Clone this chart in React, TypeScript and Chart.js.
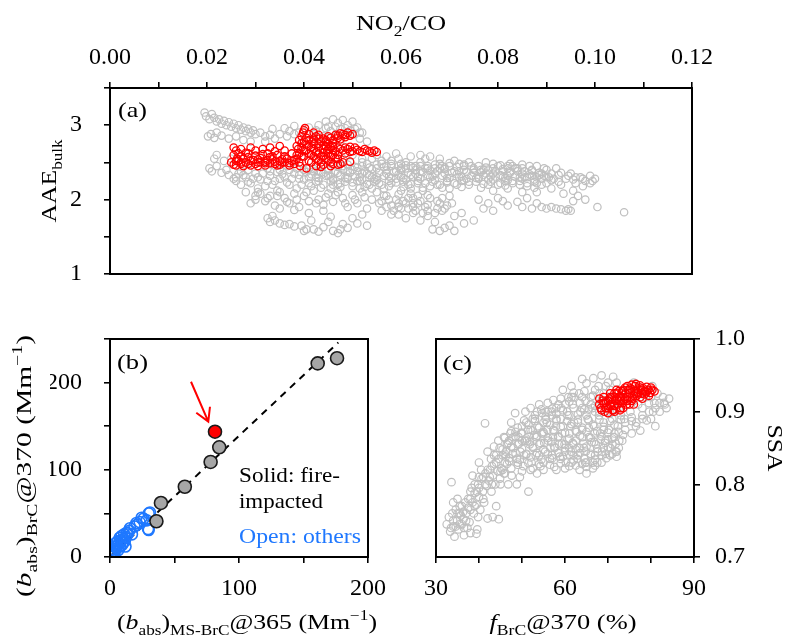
import React, { useEffect, useRef } from 'react';
import { Chart, registerables } from 'chart.js';
Chart.register(...registerables);

const FONT = '"Liberation Serif", "Times New Roman", serif';

// ---------- Panel (a): AAE_bulk vs NO2/CO ----------
const aGray: [number, number][] = [
  [0.0195,3.17],[0.0198,3.12],[0.0205,3.08],[0.021,3.15],[0.0215,3.1],[0.022,3.05],[0.0225,3.08],[0.023,3.02],[0.0235,3.06],[0.024,3.0],[0.0245,3.04],[0.025,2.98],[0.0255,3.02],[0.026,2.96],[0.0265,3.0],[0.027,2.94],[0.0275,2.97],[0.028,2.92],[0.0285,2.95],[0.029,2.9],[0.0295,2.93],[0.030,2.88],[0.031,2.9],[0.032,2.85],[0.033,2.87],[0.034,2.82],[0.0202,2.85],[0.0208,2.88],[0.0215,2.83],[0.022,2.9],[0.023,2.86],[0.0245,2.82],[0.026,2.85],[0.0275,2.8],[0.029,2.78],
  [0.0205,2.42],[0.021,2.38],[0.022,2.45],[0.023,2.36],[0.024,2.4],[0.0245,2.33],[0.025,2.55],[0.026,2.3],[0.0235,2.52],[0.022,2.6],[0.0215,2.55],
  [0.036,2.96],[0.037,2.92],[0.038,2.99],[0.039,2.9],[0.041,2.97],[0.042,2.88],[0.043,3.0],[0.0445,3.05],[0.045,2.98],[0.046,3.08],[0.047,3.03],[0.0475,2.95],[0.048,3.07],[0.049,3.0],[0.0495,2.93],[0.050,3.05],[0.051,2.97],[0.0505,2.88],[0.052,2.9],[0.0455,2.92],[0.044,2.85],[0.0465,2.86],[0.0515,2.82],[0.053,2.78],[0.0475,2.78],[0.035,2.88],[0.0335,2.95],[0.032,2.78],
  [0.0425,2.93],[0.0445,2.96],[0.0465,2.98],[0.0485,2.96],[0.0505,2.95],[0.0515,2.9],[0.038,2.88],[0.0365,2.85],
  [0.026,2.25],[0.027,2.2],[0.028,2.3],[0.029,2.22],[0.030,2.35],[0.031,2.27],[0.032,2.18],[0.033,2.32],[0.034,2.25],[0.035,2.4],[0.036,2.3],[0.037,2.2],[0.038,2.35],[0.039,2.28],[0.040,2.4],[0.0285,2.4],[0.0305,2.15],[0.0325,2.42],[0.0345,2.12],[0.0365,2.45],[0.0385,2.15],[0.028,2.1],[0.030,2.05],[0.027,2.38],
  [0.0255,2.28],[0.0275,2.33],[0.0295,2.28],[0.0315,2.35],[0.0335,2.2],[0.0355,2.34],[0.0375,2.28],[0.0395,2.2],[0.0265,2.35],[0.0285,2.24],[0.0305,2.3],[0.0325,2.25],[0.0345,2.37],[0.0365,2.23],[0.0385,2.42],
  [0.029,1.95],[0.030,2.0],[0.031,2.08],[0.032,1.98],[0.033,2.05],[0.034,1.92],[0.035,2.1],[0.036,2.02],[0.037,1.95],[0.038,2.08],[0.039,1.9],[0.040,2.05],[0.041,1.98],[0.042,2.12],[0.043,2.0],[0.044,1.93],[0.045,2.08],[0.046,1.97],[0.047,2.1],[0.048,2.02],[0.049,1.9],[0.050,2.06],[0.051,1.95],[0.052,2.1],[0.053,1.88],[0.054,2.0],[0.035,1.88],[0.038,1.86],[0.041,1.82],[0.044,1.85],
  [0.0305,2.1],[0.0325,2.02],[0.0345,2.05],[0.0365,1.97],[0.0385,2.0],[0.0405,2.1],[0.0425,1.95],[0.0445,2.03],[0.0465,2.06],[0.0485,1.95],[0.0505,2.0],[0.0525,2.03],
  [0.0325,1.75],[0.033,1.7],[0.034,1.72],[0.035,1.68],[0.036,1.66],[0.037,1.67],[0.038,1.64],[0.0395,1.65],[0.040,1.58],[0.0405,1.6],[0.042,1.6],[0.043,1.57],[0.044,1.63],[0.045,1.7],[0.046,1.58],[0.047,1.55],[0.0475,1.6],[0.048,1.67],[0.049,1.62],[0.050,1.75],[0.051,1.68],[0.052,1.8],[0.053,1.65],[0.0455,1.77],[0.0415,1.72],[0.0335,1.78],
  [0.041,2.3],[0.042,2.38],[0.043,2.25],[0.044,2.35],[0.045,2.42],[0.046,2.28],[0.047,2.36],[0.048,2.45],[0.049,2.3],[0.050,2.4],[0.051,2.25],[0.052,2.35],[0.053,2.48],[0.054,2.3],[0.055,2.42],[0.056,2.52],[0.057,2.35],[0.058,2.45],[0.059,2.28],[0.060,2.4],[0.061,2.5],[0.062,2.33],[0.063,2.45],[0.064,2.38],[0.065,2.55],[0.066,2.3],[0.067,2.42],[0.068,2.48],[0.069,2.35],[0.070,2.45],[0.071,2.52],[0.072,2.3],[0.073,2.4],[0.074,2.5],[0.075,2.36],
  [0.0415,2.18],[0.0435,2.45],[0.0455,2.15],[0.0475,2.22],[0.0495,2.5],[0.0515,2.15],[0.0535,2.2],[0.0555,2.22],[0.0575,2.18],[0.0595,2.55],[0.0615,2.2],[0.0635,2.25],[0.0655,2.45],[0.0675,2.2],[0.0695,2.25],[0.0715,2.2],[0.0735,2.28],
  [0.055,2.6],[0.057,2.58],[0.059,2.62],[0.062,2.58],[0.064,2.6],[0.066,2.58],[0.068,2.55],[0.058,2.52],[0.060,2.3],[0.062,2.45],[0.054,2.55],[0.052,2.55],
  [0.033,2.38],[0.035,2.28],[0.037,2.4],[0.039,2.33],[0.041,2.42],[0.043,2.38],[0.045,2.32],[0.047,2.44],[0.049,2.38],[0.051,2.43],[0.053,2.35],[0.055,2.3],[0.057,2.45],[0.059,2.38],[0.061,2.42],[0.063,2.35],[0.065,2.42],[0.067,2.35],[0.069,2.43],[0.071,2.38],[0.073,2.45],[0.075,2.42],[0.077,2.33],[0.079,2.42],[0.081,2.38],[0.083,2.45],[0.085,2.35],[0.087,2.32],[0.089,2.28],[0.091,2.35],[0.046,2.2],[0.050,2.18],[0.054,2.15],[0.058,2.22],[0.062,2.15],[0.066,2.18],[0.070,2.15],[0.074,2.2],[0.078,2.27],[0.082,2.32],[0.086,2.22],[0.090,2.22],[0.048,2.55],[0.050,2.6],[0.052,2.5],[0.056,2.48],[0.060,2.48],[0.064,2.5],[0.068,2.42],[0.072,2.48],[0.076,2.45],
  [0.040,2.27],[0.043,2.29],[0.046,2.26],[0.049,2.28],[0.052,2.27],[0.055,2.26],[0.058,2.29],[0.061,2.27],[0.064,2.28],[0.067,2.26],[0.070,2.29],[0.073,2.26],[0.076,2.3],[0.079,2.27],[0.082,2.26],[0.085,2.28],[0.088,2.3],[0.091,2.26],
  [0.0415,2.34],[0.0445,2.32],[0.0475,2.33],[0.0505,2.31],[0.0535,2.33],[0.0565,2.32],[0.0595,2.34],[0.0625,2.31],[0.0655,2.33],[0.0685,2.32],[0.0715,2.34],[0.0745,2.32],[0.0775,2.35],[0.0805,2.33],[0.0835,2.31],[0.0865,2.34],[0.0895,2.32],[0.0925,2.33],
  [0.042,2.41],[0.045,2.39],[0.048,2.4],[0.051,2.38],[0.054,2.41],[0.057,2.39],[0.060,2.42],[0.063,2.4],[0.066,2.39],[0.069,2.41],[0.072,2.38],[0.075,2.4],[0.078,2.39],[0.081,2.41],[0.084,2.42],[0.087,2.39],[0.090,2.4],
  [0.041,2.22],[0.044,2.2],[0.047,2.21],[0.050,2.23],[0.053,2.21],[0.056,2.2],[0.059,2.23],[0.062,2.21],[0.065,2.22],[0.068,2.2],[0.071,2.22],[0.074,2.24],[0.077,2.21],[0.080,2.2],[0.083,2.22],[0.086,2.18],[0.089,2.2],
  [0.049,2.47],[0.052,2.45],[0.055,2.47],[0.058,2.48],[0.061,2.46],[0.064,2.45],[0.067,2.47],[0.070,2.49],[0.073,2.47],[0.079,2.48],[0.082,2.45],[0.085,2.42],[0.088,2.45],
  [0.0425,2.3],[0.0455,2.31],[0.0485,2.29],[0.0515,2.3],[0.0545,2.28],[0.0575,2.31],[0.0605,2.29],[0.0635,2.3],[0.0665,2.31],[0.0695,2.29],[0.0725,2.31],[0.0755,2.29],[0.0785,2.31],[0.0815,2.29],[0.0845,2.3],[0.0875,2.27],[0.0905,2.3],[0.0955,2.27],
  [0.0405,2.37],[0.0435,2.36],[0.0465,2.38],[0.0495,2.36],[0.0525,2.38],[0.0555,2.36],[0.0585,2.37],[0.0615,2.36],[0.0645,2.37],[0.0675,2.38],[0.0705,2.36],[0.0735,2.37],[0.0765,2.4],[0.0795,2.38],[0.0825,2.36],[0.0855,2.38],[0.0885,2.33],
  [0.0505,2.44],[0.0535,2.43],[0.0565,2.44],[0.0595,2.45],[0.0625,2.43],[0.0655,2.42],[0.0685,2.45],[0.0715,2.44],[0.0745,2.45],[0.0775,2.43],[0.0805,2.46],[0.0835,2.42],
  [0.0425,2.24],[0.0455,2.25],[0.0485,2.24],[0.0515,2.25],[0.0545,2.24],[0.0575,2.25],[0.0605,2.24],[0.0635,2.22],[0.0665,2.24],[0.0695,2.23],[0.0725,2.25],[0.0755,2.24],[0.0785,2.24],[0.0815,2.25],[0.0845,2.25],[0.0875,2.24],[0.0925,2.24],
  [0.0435,2.16],[0.0475,2.17],[0.0525,2.17],[0.0565,2.15],[0.0605,2.17],[0.0645,2.16],[0.0685,2.16],[0.0725,2.17],[0.0765,2.16],[0.0815,2.19],[0.0875,2.16],
  [0.055,2.1],[0.056,1.98],[0.057,2.05],[0.058,1.92],[0.059,2.0],[0.060,1.88],[0.061,1.95],[0.062,2.08],[0.063,1.85],[0.064,1.98],[0.065,1.9],[0.066,2.02],[0.067,1.82],[0.068,1.95],[0.069,1.88],[0.070,2.05],[0.071,1.78],[0.058,1.8],[0.061,1.75],[0.064,1.72],[0.067,1.7],[0.070,1.65],[0.056,1.85],[0.0665,1.6],[0.068,1.58],[0.069,1.62],[0.071,1.58],[0.073,1.68],[0.075,1.72],[0.060,2.12],[0.0645,2.12],[0.057,1.9],[0.0625,1.95],[0.0655,1.78],
  [0.0555,1.95],[0.0575,2.0],[0.0595,1.9],[0.0615,2.02],[0.0635,1.95],[0.0655,1.85],[0.0675,1.98],[0.0695,1.92],[0.0585,1.85],[0.0615,1.88],[0.0645,1.82],[0.0675,1.88],[0.0705,1.95],[0.0725,1.82],[0.0605,1.98],[0.0635,2.05],
  [0.0565,2.05],[0.0595,2.07],[0.0625,2.02],[0.0655,2.06],[0.0685,2.02],[0.0595,1.95],[0.0625,1.9],[0.0655,1.93],[0.0685,1.85],[0.0625,1.82],[0.0595,1.8],
  [0.076,2.28],[0.077,2.4],[0.078,2.2],[0.079,2.35],[0.080,2.45],[0.081,2.3],[0.082,2.42],[0.083,2.25],[0.084,2.38],[0.085,2.47],[0.086,2.3],[0.087,2.4],[0.088,2.22],[0.089,2.35],[0.090,2.3],[0.091,2.15],[0.092,2.42],[0.093,2.2],[0.094,2.28],[0.095,2.35],[0.096,2.22],[0.097,2.3],[0.098,2.25],[0.099,2.32],[0.100,2.28],[0.079,2.12],[0.082,2.15],[0.085,2.1],[0.088,2.1],[0.0775,2.5],[0.0825,2.48],[0.0865,2.45],[0.0805,2.22],[0.0845,2.2],[0.0895,2.42],[0.0935,2.08],[0.0955,2.12],[0.0975,2.18],
  [0.0765,2.37],[0.0795,2.31],[0.0825,2.38],[0.0855,2.3],[0.0885,2.36],[0.0915,2.28],[0.0945,2.32],[0.0975,2.28],[0.0995,2.25],[0.093,2.36],[0.096,2.3],[0.099,2.22],
  [0.076,2.0],[0.078,1.95],[0.080,2.02],[0.082,1.92],[0.084,1.97],[0.085,1.9],[0.087,1.88],[0.088,1.95],[0.089,1.9],[0.090,1.88],[0.091,1.9],[0.092,1.88],[0.093,1.87],[0.094,1.85],[0.095,1.85],[0.0945,1.87],[0.086,2.02],[0.077,1.88],[0.079,1.85],[0.081,1.98],[0.0955,1.98],[0.098,2.0],[0.0965,2.05],[0.1005,1.9],[0.106,1.83],
];

const aRed: [number, number][] = [
  [0.025,2.5],[0.026,2.46],[0.0265,2.52],[0.027,2.48],[0.028,2.5],[0.029,2.46],[0.0295,2.53],[0.030,2.48],[0.031,2.5],[0.032,2.46],[0.0325,2.53],[0.033,2.49],[0.034,2.51],[0.035,2.47],[0.0355,2.54],[0.036,2.5],[0.037,2.46],[0.0375,2.52],[0.038,2.48],[0.0262,2.55],[0.0285,2.57],[0.031,2.56],[0.0335,2.58],[0.0275,2.45],[0.0305,2.45],[0.0345,2.46],
  [0.0255,2.6],[0.027,2.58],[0.0285,2.62],[0.030,2.59],[0.0315,2.61],[0.033,2.57],[0.0345,2.6],[0.036,2.58],[0.0375,2.62],
  [0.026,2.52],[0.0275,2.55],[0.029,2.52],[0.0305,2.54],[0.032,2.51],[0.0335,2.54],[0.035,2.52],[0.0365,2.55],[0.038,2.53],
  [0.0255,2.47],[0.027,2.5],[0.0285,2.48],[0.0305,2.5],[0.032,2.49],[0.034,2.48],[0.0355,2.5],[0.037,2.49],
  [0.0255,2.7],[0.026,2.66],[0.027,2.68],[0.028,2.63],[0.029,2.7],[0.030,2.66],[0.0315,2.68],[0.033,2.7],[0.034,2.65],[0.035,2.72],[0.0265,2.62],[0.0325,2.62],[0.036,2.66],
  [0.0385,2.55],[0.039,2.62],[0.0395,2.7],[0.040,2.78],[0.040,2.58],[0.0405,2.66],[0.041,2.52],[0.041,2.72],[0.0415,2.6],[0.042,2.68],[0.042,2.82],[0.0425,2.55],[0.043,2.75],[0.043,2.62],[0.0435,2.5],[0.044,2.68],[0.044,2.58],[0.0445,2.78],[0.045,2.62],[0.045,2.52],[0.0455,2.7],[0.046,2.6],[0.046,2.48],[0.0395,2.85],[0.040,2.93],[0.0402,2.96],[0.041,2.88],[0.0392,2.45],[0.0405,2.42],[0.0425,2.45],[0.044,2.47],[0.0388,2.68],[0.0418,2.78],[0.0432,2.82],[0.0448,2.66],[0.0465,2.65],[0.047,2.55],[0.0475,2.48],[0.048,2.5],[0.0495,2.51],
  [0.0385,2.6],[0.039,2.5],[0.0395,2.58],[0.040,2.65],[0.0405,2.74],[0.041,2.62],[0.041,2.8],[0.0415,2.5],[0.0415,2.7],[0.042,2.58],[0.042,2.75],[0.0425,2.64],[0.0425,2.85],[0.043,2.52],[0.043,2.7],[0.0435,2.58],[0.0435,2.78],[0.044,2.63],[0.044,2.73],[0.0445,2.55],[0.045,2.68],[0.045,2.75],[0.0455,2.58],[0.0455,2.5],[0.046,2.66],[0.0465,2.55],[0.047,2.6],[0.0395,2.76],[0.0385,2.72],[0.039,2.8],[0.0398,2.9],[0.0405,2.83],[0.042,2.9],[0.0445,2.72],[0.046,2.76],[0.047,2.47],[0.0455,2.45],[0.0435,2.44],
  [0.044,2.82],[0.045,2.85],[0.046,2.8],[0.0465,2.87],[0.047,2.83],[0.048,2.88],[0.0485,2.84],[0.049,2.9],[0.0495,2.86],[0.043,2.87],
  [0.0445,2.8],[0.0455,2.83],[0.047,2.86],[0.0475,2.81],[0.0485,2.87],[0.050,2.88],[0.0475,2.89],
  [0.047,2.7],[0.048,2.66],[0.049,2.68],[0.050,2.65],[0.051,2.67],[0.052,2.64],[0.053,2.66],[0.054,2.63],[0.055,2.64],[0.0505,2.7],[0.0525,2.68],[0.0485,2.62],[0.046,2.72],
  [0.0475,2.68],[0.0495,2.64],[0.0515,2.65],[0.0535,2.65],[0.0545,2.66],[0.0495,2.71],[0.0485,2.7],
];

const aXTickLabels = ['0.00', '0.02', '0.04', '0.06', '0.08', '0.10', '0.12'];
const aYTickLabels = ['1', '2', '3'];

// ---------- Panel (b): (b_abs)BrC@370 vs (b_abs)MS-BrC@365 ----------
const bOpen: [number, number][] = [
  [0.5,1],[1,3],[1.5,6],[2,2],[2.5,9],[3,4],[3.5,12],[4,7],[4.5,16],[5,10],[5.5,13],[6,18],[6.5,8],[7,15],[7.5,22],[8,12],[8.5,19],[9,24],[9.5,14],[10,16],[10.5,21],[11,26],[11.5,18],[12,12],[12.5,23],[13,28],[14,27],[15,30],[15.5,33],[17,26],[19,35],[20.5,39],[21,37],[23,40],[24.5,45],[26,44],[28.5,42],[29.5,32],[30,31],[30,50],[31,51],
];
const bSolid: [number, number][] = [[36,41],[39.5,62],[58,80.6],[78,109],[84.7,125.8],[161,222],[176,228]];
const bFire: [number, number][] = [[81.4,143.7]];
const bFitLine: [number, number][] = [[0,0],[177,246]];
const bArrow: [number, number][] = [[62.8,201],[76.2,155.2]];
const bXTickLabels = ['0', '100', '200'];
const bYTickLabels = ['0', '100', '200'];

// ---------- Panel (c): SSA vs fBrC@370 ----------
const cGray: [number, number][] = [
  [32.5,0.745],[33,0.755],[33.3,0.735],[33.8,0.76],[34,0.742],[34.3,0.728],[34.6,0.765],[34.9,0.75],[35.2,0.738],[35.5,0.77],[35.8,0.757],[36,0.745],[36.3,0.762],[36.5,0.73],[37,0.75],[37.3,0.74],[34,0.775],[35,0.78],[36.8,0.775],[33.6,0.803],[38,0.733],[39.4,0.732],[39.6,0.738],
  [37.5,0.768],[38,0.78],[38.3,0.795],[38.8,0.76],[39,0.788],[39.4,0.772],[39.8,0.8],[40,0.783],[40.3,0.765],[40.6,0.808],[40.9,0.79],[41.2,0.775],[41.5,0.815],[41.8,0.798],[42,0.753],[42.3,0.805],[42.6,0.82],[42.9,0.79],[43.2,0.812],[43.5,0.828],[43.8,0.8],[44,0.77],[44.3,0.818],[44.6,0.835],[44.9,0.808],[45.2,0.822],[45.5,0.84],[45.8,0.815],[46,0.83],[46.3,0.845],[44.6,0.752],[43.2,0.755],[39.8,0.755],[38.5,0.812],[41.4,0.884],[40,0.83],[42,0.845],[43.5,0.852],
  [42.8,0.835],[44,0.83],[45,0.8],[46,0.815],[45.5,0.82],[43,0.8],[41,0.78],[40,0.795],[39,0.77],[38,0.765],[37.8,0.748],[36.4,0.752],[35.5,0.745],[34.6,0.742],
  [40.5,0.82],[41.5,0.8],[42.5,0.81],[43.5,0.84],[44.5,0.86],[39,0.8],[38,0.79],[37,0.76],[36,0.77],[35,0.76],[34,0.75],[33.5,0.74],
  [41,0.81],[42,0.82],[43,0.825],[44,0.84],[40,0.81],[39.5,0.79],[38.5,0.775],[37.5,0.78],[36.5,0.74],[35.5,0.76],
  [46.5,0.855],[47,0.832],[47.3,0.87],[47.6,0.812],[48,0.85],[48.4,0.898],[48.8,0.835],[48.8,0.8],[49.2,0.865],[49.6,0.845],[50,0.88],[50.3,0.825],[50.7,0.86],[51,0.842],[51.4,0.875],[51.5,0.79],[51.8,0.855],[52.2,0.83],[52.5,0.89],[52.9,0.868],[53.2,0.84],[53.6,0.88],[54,0.855],[54.3,0.825],[54.7,0.898],[55,0.87],[55.4,0.845],[55.8,0.885],[56.1,0.86],[56.5,0.835],[56.9,0.9],[57.3,0.916],[57.3,0.875],[57.6,0.85],[58,0.89],[58.4,0.865],[58.8,0.838],[59.1,0.905],[59.5,0.88],[59.9,0.855],[60.2,0.83],[60.8,0.92],[60.6,0.895],[61,0.87],[61.4,0.845],[61.8,0.91],[62.1,0.885],[62.5,0.86],[62.9,0.835],[63.3,0.925],[63.4,0.82],[63.6,0.9],[64,0.875],[64.4,0.85],[64.8,0.915],[65,0.939],[65,0.815],[65.3,0.89],[65.6,0.865],[66,0.84],[66.6,0.946],[66.4,0.905],[66.8,0.88],[67.2,0.855],[67.5,0.83],[67.9,0.895],[68.2,0.87],[68.6,0.845],[69,0.885],[69.6,0.836],[69.4,0.86],[69.8,0.9],[70.2,0.875],[70.6,0.85],[71,0.89],[71.2,0.948],[71.4,0.865],[71.8,0.845],[72,0.838],[72.3,0.88],[72.6,0.86],[46.8,0.8],[49.5,0.81],[53.5,0.815],[58,0.82],[61,0.825],[66.5,0.822],[64.7,0.83],[62,0.84],[55.5,0.9],[54,0.91],[52,0.905],[59.5,0.93],[61.5,0.935],[64,0.945],[67.8,0.935],[68.5,0.95],[70,0.94],[47.5,0.885],[50.8,0.9],[45.8,0.865],[44.8,0.85],
  [47.8,0.842],[48.5,0.872],[49,0.855],[49.8,0.87],[50.5,0.84],[51.2,0.86],[52,0.875],[52.6,0.85],[53.3,0.865],[54,0.84],[54.6,0.87],[55.2,0.857],[55.9,0.875],[56.6,0.85],[57.2,0.865],[57.9,0.88],[58.6,0.855],[59.3,0.87],[60,0.845],[60.6,0.862],[61.3,0.88],[62,0.855],[62.7,0.872],[63.4,0.85],[64.1,0.865],[64.8,0.845],[65.5,0.878],[66.2,0.858],[66.9,0.87],[67.6,0.845],[68.3,0.862],[69,0.85],[70,0.862],[71,0.855],[56,0.9],[58,0.905],[60,0.91],[62,0.92],[64,0.905],[66,0.92],[68,0.925],[69.5,0.915],[70.5,0.93],[53,0.89],[51,0.885],[49,0.83],[52,0.82],[55,0.83],[57,0.84],[59,0.835],[61,0.85],[63,0.84],[65,0.83],[67,0.84],[68.5,0.83],[70.5,0.84],[71.5,0.87],[69,0.875],[67,0.9],[65,0.895],[63,0.885],[61,0.895],[59,0.89],[57,0.895],[55,0.885],[53.5,0.9],[50,0.86],[48,0.865],[46.2,0.838],[47,0.86],
  [49,0.878],[51.5,0.882],[54,0.878],[56.5,0.882],[59,0.879],[61.5,0.883],[64,0.878],[66.5,0.882],[69,0.879],[71.5,0.882],[74,0.885],[76.5,0.88],
  [46,0.864],[48.5,0.866],[51,0.863],[53.5,0.867],[56,0.864],[58.5,0.866],[61,0.863],[63.5,0.867],[66,0.864],[68.5,0.866],[71,0.863],[73.5,0.868],
  [45.5,0.848],[47.5,0.852],[50,0.849],[52.5,0.852],[55,0.848],[57.5,0.852],[60,0.85],[62.5,0.848],[65,0.852],[67.5,0.849],[70,0.851],[72.5,0.85],
  [47,0.836],[49.5,0.834],[52,0.837],[54.5,0.834],[57,0.836],[59.5,0.838],[62,0.833],[64.5,0.836],[67,0.834],[69.5,0.842],[72,0.845],
  [45,0.818],[47.5,0.822],[50,0.818],[52.5,0.822],[55,0.82],[57.5,0.824],[60,0.822],[62.5,0.826],[65,0.824],[67,0.826],
  [53,0.895],[55.5,0.893],[58,0.897],[60.5,0.9],[63,0.896],[65.5,0.903],[68,0.9],[70.5,0.898],[73,0.895],[75.5,0.892],[78,0.895],[80.5,0.9],
  [56,0.912],[58.5,0.91],[61,0.914],[63.5,0.912],[66,0.91],[68.5,0.915],[71,0.91],[81,0.905],[83,0.912],
  [62,0.926],[64.5,0.928],[67,0.93],[69.5,0.935],[72,0.94],[76,0.94],
  [47.5,0.873],[50,0.871],[52.5,0.874],[55,0.872],[57.5,0.873],[60,0.871],[62.5,0.874],[65,0.872],[67.5,0.873],[70,0.871],[72.5,0.872],
  [46.8,0.857],[49.3,0.856],[51.8,0.858],[54.3,0.857],[56.8,0.858],[59.3,0.856],[61.8,0.857],[64.3,0.856],[66.8,0.858],[69.3,0.857],[71.8,0.856],
  [46,0.842],[48.5,0.843],[51,0.841],[53.5,0.843],[56,0.842],[58.5,0.843],[61,0.841],[63.5,0.843],[66,0.842],[68.5,0.84],[71,0.842],
  [46.5,0.828],[49,0.827],[51.5,0.829],[54,0.828],[56.5,0.827],[59,0.829],[61.5,0.83],[64,0.828],[66.5,0.83],
  [50.5,0.888],[53,0.887],[55.5,0.889],[58,0.888],[60.5,0.887],[63,0.889],[65.5,0.888],[68,0.889],[70.5,0.887],[73,0.889],[75.5,0.887],[78,0.89],
  [54.5,0.903],[57,0.904],[59.5,0.902],[62,0.905],[64.5,0.903],[67,0.908],[69.5,0.905],[72,0.903],[77,0.91],[79.5,0.912],[82,0.912],
  [59,0.918],[61.5,0.92],[64,0.92],[66.5,0.922],[69,0.925],[71.5,0.92],[80,0.92],
  [72.5,0.905],[73,0.92],[73.8,0.89],[74.5,0.93],[75.2,0.9],[76,0.915],[76.6,0.885],[77.5,0.874],[77.3,0.925],[78,0.905],[78.8,0.92],[79,0.888],[79.6,0.9],[80.3,0.935],[80.8,0.912],[81.5,0.925],[82,0.9],[82.8,0.92],[83.2,0.91],[83.6,0.905],[84.2,0.918],[81,0.88],[75.5,0.87],[74,0.875],[73.3,0.86],[80,0.89],
];
const cRed: [number, number][] = [
  [68,0.91],[68.3,0.905],[68.8,0.915],[69.2,0.9],[69.5,0.912],[70,0.905],[70.3,0.918],[70.7,0.908],[71,0.92],[71.3,0.902],[71.7,0.915],[72,0.925],[72.3,0.91],[72.7,0.92],[73,0.905],[73.3,0.928],[73.7,0.915],[74,0.925],[74.3,0.91],[74.7,0.93],[75,0.92],[75.3,0.932],[75.7,0.918],[76,0.928],[76.3,0.935],[76.7,0.922],[77,0.93],[77.4,0.936],[77.8,0.925],[78.2,0.932],[78.6,0.928],[79,0.934],[79.4,0.93],[79.8,0.926],[80.3,0.93],[80.8,0.928],[70,0.898],[71.5,0.9],[72.8,0.902],[74.5,0.915],[76,0.91],[73,0.92],[75,0.925],[69,0.92],[70.5,0.925],[72,0.93],[74,0.933],[78,0.918],
  [68.5,0.902],[69.5,0.905],[70.5,0.91],[71.5,0.908],[72.5,0.915],[73.5,0.912],[74.5,0.92],[75.5,0.915],[76.5,0.925],[77.5,0.92],[78.5,0.924],[79.5,0.922],[68,0.918],[69,0.912],[70,0.915],[71,0.913],[72,0.918],[73,0.915],[74,0.918],[75,0.93],[76,0.922],[77,0.926],[78,0.93],[79,0.927],[80,0.933],[70.5,0.92],[71.5,0.925],[72.5,0.928],[73.5,0.93],[74.5,0.935],[75.5,0.937],[76.5,0.938],[77.5,0.933],[73.5,0.905],[75,0.91],[71,0.902],
];
const cXTickLabels = ['30', '60', '90'];
const cYTickLabels = ['0.7', '0.8', '0.9', '1.0'];

// ---------- helpers ----------
type Seg = { t: string; s?: 'sub' | 'sup'; i?: boolean };

function drawRich(ctx: CanvasRenderingContext2D, segs: Seg[], cx: number, cy: number, size: number,
  targetW: number, rot = 0, color = '#000', align: 'center' | 'left' = 'center') {
  const f = (g: Seg) => `${g.i ? 'italic ' : ''}${g.s ? Math.round(size * 0.68) : size}px ${FONT}`;
  ctx.save();
  let w = 0;
  for (const g of segs) { ctx.font = f(g); w += ctx.measureText(g.t).width; }
  const sx = targetW ? targetW / w : 1;
  ctx.translate(cx, cy);
  ctx.rotate(rot);
  ctx.scale(sx, 1);
  let x = align === 'center' ? -w / 2 : 0;
  ctx.fillStyle = color;
  ctx.textAlign = 'left';
  ctx.textBaseline = 'alphabetic';
  const base = size * 0.33;
  for (const g of segs) {
    ctx.font = f(g);
    const dy = g.s === 'sub' ? size * 0.28 : g.s === 'sup' ? -size * 0.42 : 0;
    ctx.fillText(g.t, x, base + dy);
    x += ctx.measureText(g.t).width;
  }
  ctx.restore();
}

function axis(pos: string, min: number, max: number, step: number, fmt: (v: number) => string,
  labels: string[], pad: number) {
  return {
    type: 'linear',
    position: pos,
    min, max,
    ticks: {
      stepSize: step, autoSkip: false, maxRotation: 0, minRotation: 0, padding: pad, color: '#000',
      font: { family: FONT, size: 24 },
      callback: (v: number) => { const s = fmt(Number(v)); return labels.includes(s) ? s : ''; },
    },
    grid: { drawOnChartArea: false, drawTicks: true, tickLength: 6, color: '#000', lineWidth: 1.6 },
    border: { display: false },
    afterFit: (s: any) => { if (pos === 'top' || pos === 'bottom') s.height = 60; else s.width = 60; },
  };
}

function frame(chart: any) {
  const { ctx, chartArea: ca } = chart;
  ctx.save();
  ctx.strokeStyle = '#000';
  ctx.lineWidth = 2;
  ctx.strokeRect(ca.left, ca.top, ca.right - ca.left, ca.bottom - ca.top);
  ctx.restore();
}

const pts = (a: [number, number][]) => a.map(([x, y]) => ({ x, y }));

const common = {
  responsive: false,
  animation: false,
  events: [],
  plugins: { legend: { display: false }, tooltip: { enabled: false } },
};

export default function App() {
  const refA = useRef<HTMLCanvasElement>(null);
  const refB = useRef<HTMLCanvasElement>(null);
  const refC = useRef<HTMLCanvasElement>(null);

  useEffect(() => {
    const charts: Chart[] = [];

    charts.push(new Chart(refA.current!, {
      type: 'scatter',
      data: {
        datasets: [
          { data: pts(aRed), order: 0, pointRadius: 3.7, borderWidth: 1.3, pointBorderColor: '#ff0000', pointBackgroundColor: 'rgba(0,0,0,0)' },
          { data: pts(aGray), order: 1, pointRadius: 3.7, borderWidth: 1.2, pointBorderColor: '#bfbfbf', pointBackgroundColor: 'rgba(0,0,0,0)' },
        ],
      },
      options: {
        ...common,
        layout: { padding: { left: 50, right: 96, top: 28, bottom: 363 } },
        scales: {
          x: axis('top', 0, 0.12, 0.01, (v) => v.toFixed(2), aXTickLabels, 10),
          y: axis('left', 1, 3.5, 0.5, (v) => String(Math.round(v * 100) / 100), aYTickLabels, 22),
        },
      } as any,
      plugins: [{
        id: 'decoA',
        afterDraw(chart: any) {
          const { ctx, chartArea: ca } = chart;
          frame(chart);
          drawRich(ctx, [{ t: 'NO' }, { t: '2', s: 'sub' }, { t: '/CO' }], (ca.left + ca.right) / 2, 23, 21, 90);
          drawRich(ctx, [{ t: 'AAE' }, { t: 'bulk', s: 'sub' }], 49, (ca.top + ca.bottom) / 2, 21, 83, -Math.PI / 2);
          drawRich(ctx, [{ t: '(a)' }], ca.left + 22.5, ca.top + 22, 21, 29);
        },
      }],
    } as any));

    charts.push(new Chart(refB.current!, {
      type: 'scatter',
      data: {
        datasets: [
          { data: pts(bFire), order: 0, pointRadius: 6.5, borderWidth: 1.6, pointBorderColor: '#1a1a1a', pointBackgroundColor: '#ff0000' },
          { data: pts(bSolid), order: 1, pointRadius: 6.5, borderWidth: 1.6, pointBorderColor: '#1a1a1a', pointBackgroundColor: '#a6a6a6' },
          { data: pts(bOpen), order: 2, pointRadius: 5.5, borderWidth: 1.6, pointBorderColor: '#1f78ff', pointBackgroundColor: 'rgba(0,0,0,0)' },
          { type: 'line', data: pts(bFitLine), order: 3, showLine: true, borderColor: '#000', borderWidth: 2, borderDash: [7, 6], pointRadius: 0, fill: false },
        ],
      },
      options: {
        ...common,
        layout: { padding: { left: 50, right: 420, top: 339, bottom: 20 } },
        scales: {
          x: axis('bottom', 0, 200, 50, (v) => String(Math.round(v)), bXTickLabels, 11),
          y: axis('left', 0, 250, 50, (v) => String(Math.round(v)), bYTickLabels, 22),
        },
      } as any,
      plugins: [{
        id: 'decoB',
        afterDraw(chart: any) {
          const { ctx, chartArea: ca, scales } = chart;
          frame(chart);
          const x1 = scales.x.getPixelForValue(bArrow[0][0]);
          const y1 = scales.y.getPixelForValue(bArrow[0][1]);
          const x2 = scales.x.getPixelForValue(bArrow[1][0]);
          const y2 = scales.y.getPixelForValue(bArrow[1][1]);
          const ang = Math.atan2(y2 - y1, x2 - x1);
          ctx.save();
          ctx.strokeStyle = '#ff0000';
          ctx.lineWidth = 2;
          ctx.beginPath();
          ctx.moveTo(x1, y1); ctx.lineTo(x2, y2);
          ctx.moveTo(x2 + 15 * Math.cos(ang + Math.PI - 0.52), y2 + 15 * Math.sin(ang + Math.PI - 0.52));
          ctx.lineTo(x2, y2);
          ctx.lineTo(x2 + 15 * Math.cos(ang + Math.PI + 0.52), y2 + 15 * Math.sin(ang + Math.PI + 0.52));
          ctx.stroke();
          ctx.restore();
          drawRich(ctx, [{ t: 'Solid: fire-' }], ca.left + 129, ca.top + 136, 21, 101, 0, '#000', 'left');
          drawRich(ctx, [{ t: 'impacted' }], ca.left + 129, ca.top + 162, 21, 84, 0, '#000', 'left');
          drawRich(ctx, [{ t: 'Open: others' }], ca.left + 129, ca.top + 197, 21, 122, 0, '#1f78ff', 'left');
          drawRich(ctx, [{ t: '(b)' }], ca.left + 22.5, ca.top + 23, 21, 31);
          drawRich(ctx, [{ t: '(' }, { t: 'b', i: true }, { t: 'abs', s: 'sub' }, { t: ')' }, { t: 'BrC', s: 'sub' }, { t: '@370 (Mm' }, { t: '\u22121', s: 'sup' }, { t: ')' }],
            24, 466, 21, 262, -Math.PI / 2);
          drawRich(ctx, [{ t: '(' }, { t: 'b', i: true }, { t: 'abs', s: 'sub' }, { t: ')' }, { t: 'MS-BrC', s: 'sub' }, { t: '@365 (Mm' }, { t: '\u22121', s: 'sup' }, { t: ')' }],
            247, 622, 21, 260);
        },
      }],
    } as any));

    charts.push(new Chart(refC.current!, {
      type: 'scatter',
      data: {
        datasets: [
          { data: pts(cRed), order: 0, pointRadius: 3.8, borderWidth: 1.3, pointBorderColor: '#ff0000', pointBackgroundColor: 'rgba(0,0,0,0)' },
          { data: pts(cGray), order: 1, pointRadius: 3.8, borderWidth: 1.2, pointBorderColor: '#bfbfbf', pointBackgroundColor: 'rgba(0,0,0,0)' },
        ],
      },
      options: {
        ...common,
        layout: { padding: { left: 436, right: 34, top: 339, bottom: 20 } },
        scales: {
          x: axis('bottom', 30, 90, 10, (v) => String(Math.round(v)), cXTickLabels, 11),
          y: axis('right', 0.7, 1.0, 0.1, (v) => v.toFixed(1), cYTickLabels, 15),
        },
      } as any,
      plugins: [{
        id: 'decoC',
        afterDraw(chart: any) {
          const { ctx, chartArea: ca } = chart;
          frame(chart);
          drawRich(ctx, [{ t: '(c)' }], ca.left + 21.5, ca.top + 24, 21, 29);
          drawRich(ctx, [{ t: 'f', i: true }, { t: 'BrC', s: 'sub' }, { t: '@370 (%)' }], 563, 622, 21, 147);
          drawRich(ctx, [{ t: 'SSA' }], 775, (ca.top + ca.bottom) / 2, 21, 47, Math.PI / 2);
        },
      }],
    } as any));

    return () => charts.forEach((c) => c.destroy());
  }, []);

  const cs: React.CSSProperties = { position: 'absolute', left: 0, top: 0, width: 788, height: 637 };
  return (
    <div style={{ position: 'fixed', left: 0, top: 0, width: 788, height: 637, background: '#fff' }}>
      <canvas ref={refA} width={788} height={637} style={cs} />
      <canvas ref={refB} width={788} height={637} style={cs} />
      <canvas ref={refC} width={788} height={637} style={cs} />
    </div>
  );
}
